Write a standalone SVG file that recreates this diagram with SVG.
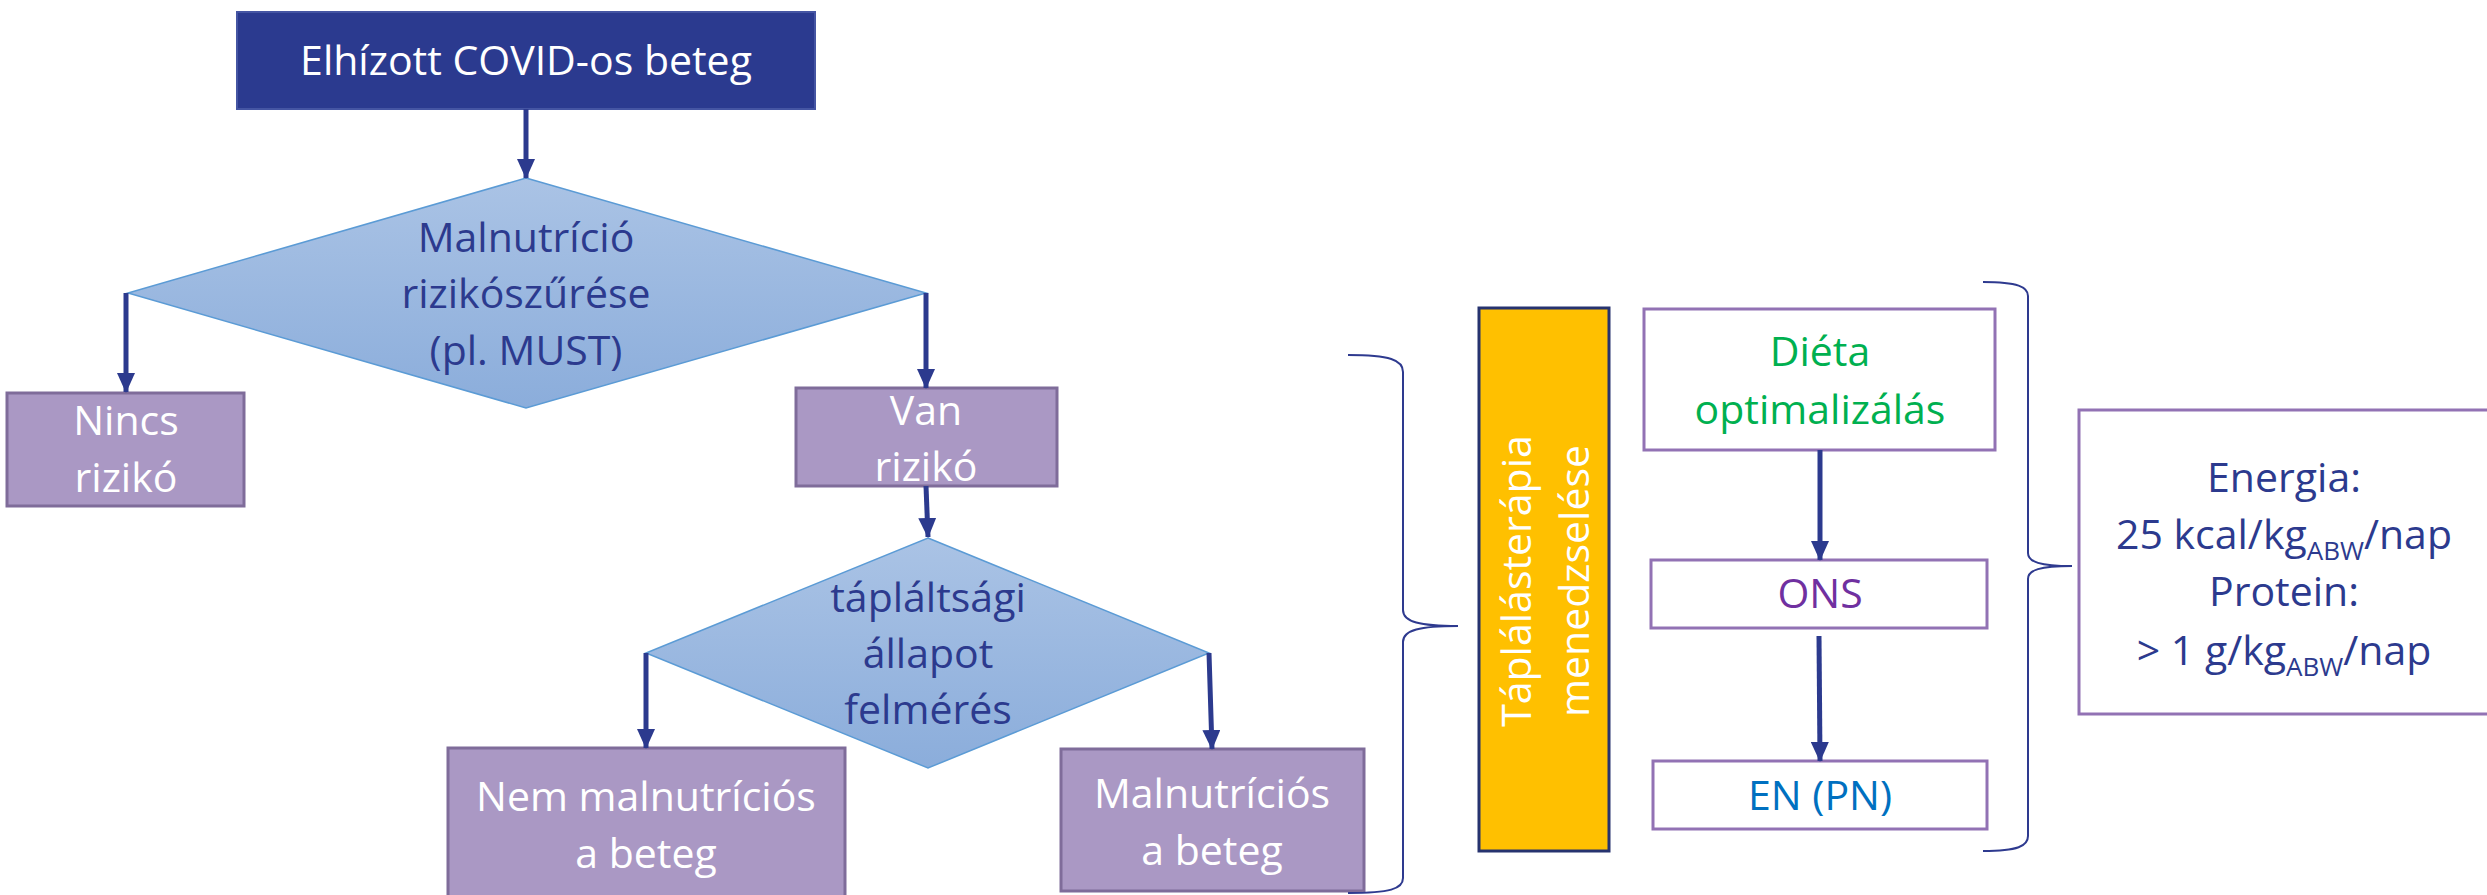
<svg xmlns="http://www.w3.org/2000/svg" width="2487" height="895" viewBox="0 0 2487 895">
<defs>
<linearGradient id="dg" x1="0" y1="0" x2="0" y2="1">
<stop offset="0" stop-color="#AAC3E5"/>
<stop offset="1" stop-color="#8BADDB"/>
</linearGradient>
<marker id="ah" markerUnits="userSpaceOnUse" markerWidth="20" markerHeight="18" refX="19" refY="9" orient="auto">
<path d="M0,0 L20,9 L0,18 z" fill="#2C3A8E"/>
</marker>
<style>
text{font-family:"Open Sans","Liberation Sans",sans-serif;font-size:41px;text-anchor:middle}
.w{fill:#FFFFFF}
.n{fill:#2C3A8E}
.pbox{fill:#AA98C4;stroke:#7F6C9A;stroke-width:3}
.dia{fill:url(#dg);stroke:#5B9BD5;stroke-width:1.5}
.obox{fill:#FFFFFF;stroke:#9272B4;stroke-width:3}
.conn line{stroke:#2C3A8E;stroke-width:5;marker-end:url(#ah)}
.brace{fill:none;stroke:#2E3A8F;stroke-width:2}
</style>
</defs>
<rect width="2487" height="895" fill="#FFFFFF"/>

<g id="start">
<rect x="237" y="12" width="578" height="97" fill="#2B3A8F" stroke="#4555A3" stroke-width="2"/>
<text class="w" x="526" y="75">Elhízott COVID-os beteg</text>
</g>

<g id="screening">
<polygon class="dia" points="526,178 926,293 526,408 128,293"/>
<text class="n" x="526" y="252">Malnutríció</text>
<text class="n" x="526" y="308">rizikószűrése</text>
<text class="n" x="526" y="365">(pl. MUST)</text>
</g>

<g id="no-risk">
<rect class="pbox" x="7" y="393" width="237" height="113"/>
<text class="w" x="126" y="435">Nincs</text>
<text class="w" x="126" y="492">rizikó</text>
</g>

<g id="risk">
<rect class="pbox" x="796" y="388" width="261" height="98"/>
<text class="w" x="926" y="425">Van</text>
<text class="w" x="926" y="481">rizikó</text>
</g>

<g id="assessment">
<polygon class="dia" points="928,538 1209,653 928,768 646,653"/>
<text class="n" x="928" y="612">tápláltsági</text>
<text class="n" x="928" y="668">állapot</text>
<text class="n" x="928" y="724">felmérés</text>
</g>

<g id="not-malnourished">
<rect class="pbox" x="448" y="748" width="397" height="160"/>
<text class="w" x="646" y="811">Nem malnutríciós</text>
<text class="w" x="646" y="868">a beteg</text>
</g>

<g id="malnourished">
<rect class="pbox" x="1061" y="749" width="303" height="142"/>
<text class="w" x="1212" y="808">Malnutríciós</text>
<text class="w" x="1212" y="865">a beteg</text>
</g>

<g id="therapy">
<rect x="1479" y="308" width="130" height="543" fill="#FFC000" stroke="#26336F" stroke-width="3"/>
<text class="w" transform="translate(1531,581) rotate(-90)"><tspan x="0" y="0">Táplálásterápia</tspan><tspan x="0" y="58">menedzselése</tspan></text>
</g>

<g id="diet">
<rect class="obox" x="1644" y="309" width="351" height="141"/>
<text x="1820" y="366" fill="#00B050">Diéta</text>
<text x="1820" y="424" fill="#00B050">optimalizálás</text>
</g>

<g id="ons">
<rect class="obox" x="1651" y="560" width="336" height="68"/>
<text x="1820" y="608" fill="#7030A0">ONS</text>
</g>

<g id="en-pn">
<rect class="obox" x="1653" y="761" width="334" height="68"/>
<text x="1820" y="810" fill="#0070C0">EN (PN)</text>
</g>

<g id="targets">
<rect class="obox" x="2079" y="410" width="430" height="304"/>
<text class="n" x="2284" y="492">Energia:</text>
<text class="n" x="2284" y="549">25 kcal/kg<tspan font-size="26" dy="11">ABW</tspan><tspan dy="-11">/nap</tspan></text>
<text class="n" x="2284" y="606">Protein:</text>
<text class="n" x="2284" y="665">&gt; 1 g/kg<tspan font-size="26" dy="11">ABW</tspan><tspan dy="-11">/nap</tspan></text>
</g>

<g id="connectors" class="conn">
<line x1="526" y1="109" x2="526" y2="178"/>
<line x1="126" y1="293" x2="126" y2="392"/>
<line x1="926" y1="293" x2="926" y2="388"/>
<line x1="926" y1="486" x2="928" y2="537"/>
<line x1="646" y1="653" x2="646" y2="748"/>
<line x1="1209" y1="653" x2="1212" y2="749"/>
<line x1="1820" y1="450" x2="1820" y2="560"/>
<line x1="1819" y1="636" x2="1820" y2="761"/>
</g>

<g id="braces">
<path class="brace" d="M1348,355 C1390,355 1403,360 1403,372 L1403,610 C1403,622 1420,626 1458,626 C1420,626 1403,630 1403,642 L1403,878 C1403,889 1390,893 1348,893"/>
<path class="brace" d="M1983,282 C2018,282 2028,287 2028,296 L2028,553 C2028,562 2040,566 2072,566 C2040,566 2028,570 2028,579 L2028,836 C2028,846 2018,851 1983,851"/>
</g>
</svg>
